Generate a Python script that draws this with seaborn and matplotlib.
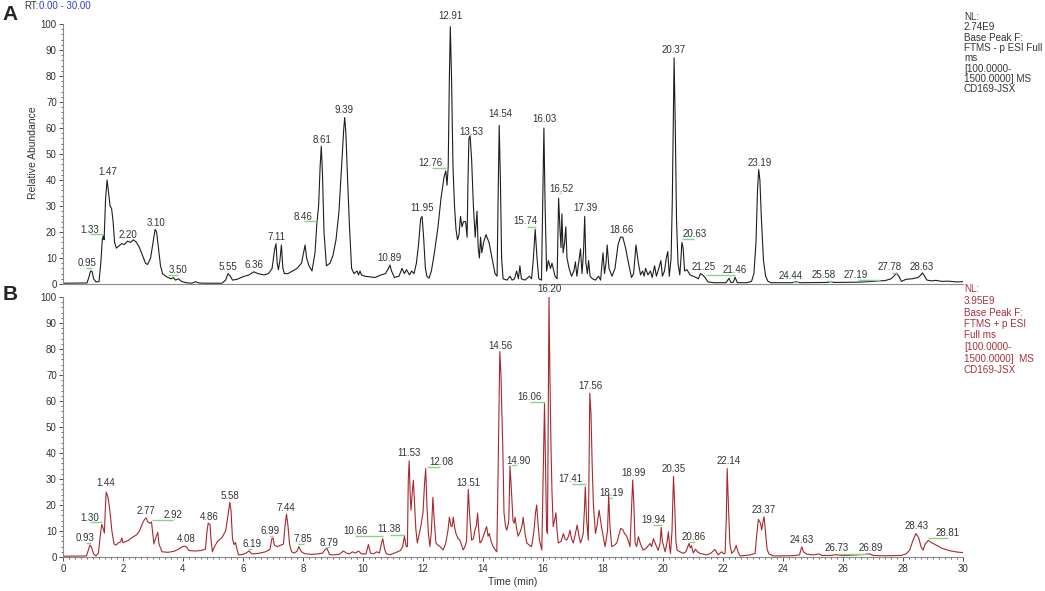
import matplotlib
matplotlib.use("Agg")
import matplotlib.pyplot as plt
from matplotlib.ticker import MultipleLocator
import pandas as pd
import seaborn as sns

# Base peak chromatogram A (negative mode) : (time min, relative abundance)
trace_a = [
    (0.0, 0.3), (0.8, 0.4), (0.86, 2.5), (0.92, 5), (0.97, 4.8), (1.02, 2), (1.1, 0.8), (1.2, 0.9),
    (1.26, 8), (1.31, 17), (1.34, 18.5), (1.37, 17), (1.42, 33), (1.47, 40), (1.52, 35), (1.57, 30),
    (1.62, 29), (1.67, 24), (1.72, 16), (1.78, 13.8), (1.85, 14.5), (1.95, 15.5), (2.05, 15.2),
    (2.15, 16.5), (2.25, 16), (2.35, 17), (2.45, 16), (2.55, 14), (2.65, 11), (2.75, 8), (2.82, 7.5),
    (2.92, 10), (3.0, 16), (3.07, 21), (3.12, 20), (3.18, 14), (3.25, 7), (3.32, 4), (3.42, 3),
    (3.5, 2.5), (3.6, 2), (3.68, 2.5), (3.75, 1.5), (3.85, 2), (3.95, 1), (4.1, 0.5), (4.3, 0.3),
    (4.42, 0.9), (4.52, 0.4), (4.7, 0.3), (5.3, 0.3), (5.42, 1.5), (5.5, 4), (5.58, 3), (5.65, 1.5),
    (5.8, 1.8), (6.0, 2.8), (6.2, 3.5), (6.36, 4.7), (6.5, 4), (6.7, 3.5), (6.85, 4), (6.97, 6),
    (7.05, 13), (7.1, 15.5), (7.14, 8), (7.18, 5.5), (7.23, 9), (7.28, 15), (7.33, 6), (7.38, 4),
    (7.5, 4), (7.65, 5), (7.8, 6), (7.95, 8), (8.02, 12), (8.07, 15), (8.12, 10), (8.2, 7), (8.3, 5),
    (8.4, 12), (8.46, 23), (8.52, 30), (8.57, 45), (8.61, 53), (8.65, 42), (8.7, 20), (8.78, 7),
    (8.9, 8), (9.0, 11), (9.1, 17), (9.2, 28), (9.3, 48), (9.36, 60), (9.39, 64), (9.43, 58),
    (9.48, 42), (9.55, 22), (9.62, 6), (9.7, 4), (9.8, 5), (9.85, 3.5), (9.9, 5), (9.95, 3.5),
    (10.05, 3), (10.2, 2.8), (10.4, 2.5), (10.6, 3.5), (10.75, 4), (10.85, 6), (10.9, 7.3),
    (10.95, 5), (11.05, 2.5), (11.2, 3), (11.3, 6), (11.38, 4), (11.45, 5.5), (11.55, 3.5),
    (11.62, 5), (11.7, 4), (11.78, 8), (11.85, 15), (11.92, 25), (11.97, 26), (12.02, 18),
    (12.08, 6), (12.13, 3), (12.2, 2.2), (12.28, 5), (12.38, 12), (12.5, 22), (12.6, 33),
    (12.7, 41), (12.76, 43.5), (12.8, 38), (12.84, 45), (12.88, 80), (12.91, 99), (12.95, 80),
    (13.0, 45), (13.05, 30), (13.1, 21), (13.15, 17), (13.2, 19), (13.25, 26), (13.3, 22),
    (13.35, 24), (13.42, 24), (13.47, 18), (13.5, 40), (13.53, 56), (13.57, 57), (13.62, 48),
    (13.68, 30), (13.74, 18), (13.8, 28), (13.84, 14), (13.88, 10), (13.92, 18), (13.96, 12),
    (14.02, 16), (14.1, 19), (14.2, 16), (14.3, 10), (14.4, 4), (14.47, 3), (14.5, 30),
    (14.54, 61), (14.58, 40), (14.62, 10), (14.67, 2), (14.8, 1.5), (14.9, 3), (14.97, 1.5),
    (15.05, 2), (15.12, 5), (15.18, 2), (15.23, 7), (15.28, 2), (15.4, 1.5), (15.55, 3),
    (15.62, 2), (15.68, 10), (15.74, 21), (15.8, 10), (15.86, 2), (15.95, 1.5), (15.99, 30),
    (16.03, 60), (16.07, 30), (16.12, 5), (16.18, 9), (16.25, 6), (16.3, 8), (16.4, 3),
    (16.47, 2), (16.52, 33), (16.57, 20), (16.6, 14), (16.63, 27), (16.67, 12), (16.72, 16),
    (16.76, 22), (16.8, 10), (16.87, 6), (16.95, 3), (17.03, 5), (17.08, 8.5), (17.13, 3),
    (17.2, 9), (17.25, 13.5), (17.3, 4), (17.35, 12), (17.39, 26), (17.43, 8), (17.48, 4),
    (17.52, 9), (17.57, 3), (17.65, 2), (17.75, 1.5), (17.85, 3), (17.92, 1.5), (18.0, 12),
    (18.05, 4), (18.1, 8), (18.14, 15), (18.2, 6), (18.3, 3), (18.4, 6), (18.5, 15), (18.58, 18),
    (18.66, 18), (18.75, 14), (18.85, 8), (18.95, 2.5), (19.02, 4), (19.1, 15), (19.18, 8),
    (19.25, 3.5), (19.32, 5), (19.37, 3), (19.42, 6), (19.5, 3.5), (19.58, 5), (19.64, 2.5),
    (19.72, 7), (19.78, 3), (19.86, 6), (19.93, 9), (19.98, 3), (20.05, 5), (20.11, 10),
    (20.16, 12.5), (20.21, 3), (20.27, 10), (20.31, 32), (20.34, 60), (20.37, 87), (20.41, 60),
    (20.45, 25), (20.5, 8), (20.56, 3.5), (20.6, 10), (20.63, 16), (20.67, 14), (20.72, 5),
    (20.8, 5.5), (20.9, 3.5), (21.0, 3), (21.1, 2.5), (21.18, 2), (21.25, 4), (21.32, 3.5),
    (21.4, 2.5), (21.5, 0.8), (21.7, 0.5), (22.1, 0.5), (22.2, 2.2), (22.27, 0.5), (22.35, 0.8),
    (22.4, 2.6), (22.48, 0.5), (22.8, 0.5), (22.95, 1), (23.03, 4), (23.1, 16), (23.15, 36),
    (23.19, 44), (23.23, 40), (23.28, 25), (23.35, 9), (23.42, 3), (23.5, 1), (23.6, 0.5),
    (24.3, 0.5), (24.44, 0.9), (24.55, 0.5), (25.5, 0.6), (25.58, 0.9), (25.7, 0.6), (26.5, 0.7),
    (27.0, 1), (27.19, 1.2), (27.4, 1.3), (27.6, 2), (27.7, 3), (27.78, 4.2), (27.86, 3),
    (27.95, 1), (28.1, 1.8), (28.3, 2), (28.5, 2.5), (28.6, 3.5), (28.65, 4.3), (28.72, 3),
    (28.8, 1.5), (28.95, 1.2), (29.1, 1.4), (29.3, 1), (29.5, 1.1), (29.8, 0.8), (30.0, 0.9),
]

# Base peak chromatogram B (positive mode)
trace_b = [
    (0.0, 0.3), (0.78, 0.4), (0.84, 2.5), (0.9, 4.6), (0.96, 3.5), (1.02, 1.2), (1.1, 0.4),
    (1.18, 1.5), (1.24, 8), (1.29, 12.5), (1.34, 11), (1.38, 9.2), (1.41, 18), (1.44, 25),
    (1.5, 23), (1.56, 18), (1.63, 10), (1.7, 5), (1.77, 4.6), (1.85, 5.5), (1.92, 5.8),
    (1.96, 7.3), (2.0, 5.5), (2.1, 6), (2.2, 6.5), (2.3, 7.5), (2.45, 8.5), (2.55, 10), (2.65, 13),
    (2.72, 14.5), (2.77, 15), (2.83, 13.5), (2.9, 13), (2.95, 13.5), (3.0, 8), (3.03, 5),
    (3.08, 7), (3.16, 9.5), (3.2, 5), (3.25, 3.5), (3.3, 2), (3.5, 1.8), (3.7, 2.2), (3.85, 3),
    (3.95, 3.8), (4.05, 4.2), (4.12, 3.8), (4.2, 2.5), (4.4, 2.3), (4.6, 2.5), (4.75, 3),
    (4.8, 10), (4.84, 13), (4.9, 12.5), (4.94, 6), (4.98, 2), (5.05, 4), (5.15, 6), (5.3, 7.5),
    (5.42, 10), (5.5, 16), (5.56, 21), (5.6, 18), (5.65, 7), (5.7, 4.8), (5.75, 5.6), (5.8, 3),
    (5.85, 0.8), (6.0, 1), (6.1, 1.5), (6.2, 2.3), (6.3, 1.2), (6.45, 1.3), (6.6, 1.6),
    (6.75, 2), (6.9, 3), (6.96, 7), (7.0, 7.3), (7.05, 4.5), (7.15, 4), (7.25, 4.5), (7.35, 5),
    (7.4, 12), (7.45, 16.5), (7.5, 12), (7.55, 5), (7.62, 2), (7.7, 1.5), (7.8, 2.2), (7.86, 4),
    (7.95, 2), (8.05, 1.3), (8.3, 1), (8.5, 1.2), (8.65, 1.5), (8.75, 3), (8.8, 3.4), (8.88, 1),
    (9.0, 0.8), (9.2, 1), (9.35, 2.3), (9.45, 1.5), (9.55, 1.2), (9.65, 2), (9.75, 1.5),
    (9.85, 2.3), (9.95, 1.2), (10.1, 1.2), (10.18, 4.8), (10.25, 1.5), (10.35, 1.2), (10.46, 2),
    (10.55, 1.5), (10.62, 5.5), (10.66, 7), (10.72, 3), (10.78, 1.2), (10.9, 0.9), (11.05, 1.5),
    (11.15, 2), (11.25, 2.5), (11.32, 4), (11.38, 8), (11.44, 4), (11.48, 4), (11.51, 30),
    (11.54, 37), (11.57, 25), (11.6, 18), (11.65, 26), (11.68, 29.5), (11.72, 20), (11.76, 11),
    (11.81, 5.4), (11.86, 8), (11.93, 12), (12.0, 17), (12.05, 28), (12.09, 34), (12.13, 20),
    (12.18, 9), (12.23, 4), (12.28, 10), (12.33, 23), (12.37, 15), (12.43, 5.4), (12.5, 4.5),
    (12.57, 4), (12.67, 2.7), (12.75, 5), (12.83, 10), (12.88, 15.3), (12.93, 12), (12.97, 11.7),
    (13.01, 15.3), (13.06, 11), (13.1, 9), (13.17, 7), (13.23, 6.5), (13.3, 4), (13.34, 2.7),
    (13.4, 4), (13.45, 6), (13.51, 26), (13.56, 15), (13.62, 6.5), (13.68, 7), (13.73, 10.3),
    (13.78, 12), (13.82, 16.9), (13.86, 10), (13.9, 5.4), (13.95, 6), (14.01, 8), (14.07, 10),
    (14.12, 11.7), (14.17, 8), (14.21, 9), (14.27, 6), (14.34, 4), (14.42, 2.5), (14.46, 2),
    (14.5, 30), (14.53, 55), (14.56, 79), (14.6, 70), (14.63, 55), (14.66, 42), (14.7, 17),
    (14.75, 12), (14.79, 10.3), (14.83, 12), (14.86, 14), (14.9, 35), (14.95, 25), (15.0, 14),
    (15.04, 13), (15.07, 15.3), (15.12, 11), (15.17, 8), (15.25, 10), (15.3, 12), (15.34, 15.3),
    (15.4, 9), (15.46, 5.4), (15.55, 4.5), (15.62, 4), (15.7, 10), (15.75, 17), (15.79, 20),
    (15.84, 12), (15.88, 6.5), (15.96, 2.7), (16.01, 35), (16.05, 59), (16.09, 30), (16.12, 10.3),
    (16.15, 9), (16.18, 60), (16.2, 100), (16.23, 70), (16.27, 40), (16.3, 25), (16.34, 11.7),
    (16.4, 15), (16.43, 17), (16.47, 10), (16.51, 5.4), (16.6, 6), (16.68, 9), (16.73, 7),
    (16.79, 6.5), (16.85, 8), (16.9, 10.3), (16.95, 7), (17.01, 5.4), (17.08, 9), (17.14, 12.3),
    (17.2, 8), (17.25, 5.4), (17.3, 7), (17.34, 9), (17.38, 18), (17.41, 27), (17.45, 15),
    (17.51, 6.5), (17.53, 30), (17.56, 63), (17.6, 55), (17.64, 35), (17.68, 20), (17.75, 9),
    (17.8, 12), (17.87, 18), (17.92, 14), (17.95, 11.7), (18.02, 7), (18.07, 4), (18.15, 10),
    (18.19, 24), (18.23, 12), (18.29, 4), (18.38, 4.5), (18.46, 5.4), (18.52, 8), (18.59, 11),
    (18.66, 10.5), (18.72, 9), (18.79, 8), (18.85, 6), (18.9, 4), (18.94, 15), (18.99, 29.6),
    (19.03, 20), (19.07, 5.4), (19.12, 4), (19.18, 7.8), (19.25, 5), (19.34, 2.6), (19.45, 3.5),
    (19.52, 4.5), (19.57, 5.2), (19.62, 4), (19.68, 7), (19.75, 5), (19.84, 2.6), (19.9, 5),
    (19.94, 11.4), (19.98, 6), (20.07, 2), (20.14, 6), (20.18, 9.7), (20.22, 4), (20.25, 1.4),
    (20.3, 10), (20.35, 31), (20.39, 20), (20.43, 6), (20.47, 2.6), (20.6, 1.8), (20.68, 1.4),
    (20.76, 2), (20.83, 4), (20.87, 5.2), (20.91, 3.5), (20.95, 4.3), (21.01, 1.5), (21.08, 3),
    (21.15, 2), (21.23, 1.4), (21.46, 0.8), (21.6, 1.5), (21.73, 2.9), (21.8, 1.5), (21.84, 0.8),
    (21.9, 1.5), (21.96, 2), (22.02, 1.2), (22.07, 1.4), (22.11, 15), (22.14, 34), (22.18, 20),
    (22.23, 5), (22.29, 1.4), (22.38, 2.5), (22.44, 4.5), (22.5, 2), (22.57, 0.4), (22.75, 0.6),
    (22.9, 0.8), (23.07, 1.4), (23.12, 8), (23.18, 14.5), (23.25, 13), (23.29, 10.4),
    (23.34, 14), (23.37, 15.5), (23.42, 9), (23.47, 3), (23.53, 1.2), (23.68, 0.4), (24.34, 0.5),
    (24.55, 0.8), (24.6, 3), (24.63, 3.9), (24.68, 2), (24.79, 1.1), (25.0, 0.8), (25.2, 1.2),
    (25.3, 0.6), (25.6, 0.6), (25.75, 0.9), (26.0, 0.5), (26.3, 0.7), (26.73, 1), (26.89, 1.2),
    (27.0, 0.6), (27.2, 0.5), (27.5, 0.5), (27.94, 0.6), (28.1, 1.2), (28.22, 2.6), (28.32, 6),
    (28.43, 9), (28.52, 7.5), (28.6, 4), (28.67, 2.6), (28.74, 5), (28.84, 6.4), (28.95, 5.5),
    (29.12, 4.5), (29.3, 3.3), (29.57, 2.4), (29.8, 1.9), (30.0, 1.7),
]

# peak labels as displayed (text, label centre time, label centre height)
labels_a = ["0.95", "1.33", "1.47", "2.20", "3.10", "3.50", "5.55", "6.36", "7.11", "8.46",
            "8.61", "9.39", "10.89", "11.95", "12.76", "12.91", "13.53", "14.54", "15.74",
            "16.03", "16.52", "17.39", "18.66", "20.37", "20.63", "21.25", "21.46", "23.19",
            "24.44", "25.58", "27.19", "27.78", "28.63"]
label_t_a = [0.79, 0.9, 1.48, 2.18, 3.09, 3.82, 5.49, 6.38, 7.1, 8.01, 8.62, 9.38, 10.88,
             11.97, 12.26, 12.9, 13.62, 14.57, 15.41, 16.06, 16.62, 17.4, 18.63, 20.37, 21.04,
             21.36, 22.4, 23.21, 24.27, 25.34, 26.41, 27.54, 28.63]
label_v_a = [8, 20.8, 43.2, 18.8, 23.6, 5.4, 6.7, 7.3, 18.2, 25.9, 55.4, 66.9, 9.9, 29.1,
             46.4, 103.1, 58.6, 65.3, 24.2, 63.3, 36.4, 29.3, 20.8, 90, 19.1, 6.7, 5.4, 46.7,
             3.1, 3.5, 3.5, 6.4, 6.4]
# green leader lines (from, to, height)
leaders_a = [(0.77, 0.96, 6.3), (0.9, 1.32, 19.1), (3.5, 3.83, 3.5), (8.03, 8.46, 24.3),
             (12.29, 12.77, 44.5), (15.46, 15.76, 22), (16.53, 16.6, 34.9), (20.62, 21.03, 17.2),
             (21.43, 22.4, 3.5), (24.32, 24.51, 0.9), (25.42, 25.64, 1.3), (26.51, 27.23, 1.5),
             (27.62, 27.81, 4.3)]

labels_b = ["0.93", "1.30", "1.44", "2.77", "2.92", "4.08", "4.86", "5.58", "6.19", "6.99",
            "7.44", "7.85", "8.79", "10.66", "11.38", "11.53", "12.08", "13.51", "14.56",
            "14.90", "16.06", "16.20", "17.41", "17.56", "18.19", "18.99", "19.94", "20.35",
            "20.86", "22.14", "23.37", "24.63", "26.73", "26.89", "28.43", "28.81"]
label_t_b = [0.74, 0.89, 1.43, 2.76, 3.68, 4.1, 4.87, 5.58, 6.29, 6.9, 7.44, 8.01, 8.88,
             9.74, 10.88, 11.54, 12.6, 13.51, 14.57, 15.17, 15.56, 16.23, 16.92, 17.59, 18.29,
             19.01, 19.7, 20.37, 21.03, 22.18, 23.37, 24.63, 25.8, 26.91, 28.47, 29.49]
label_v_b = [7.2, 15.1, 28.3, 17.8, 16.2, 6.8, 15.5, 23.6, 4.9, 10.1, 18.7, 6.8, 5.5, 10.1,
             10.6, 39.9, 36.4, 28.3, 81.3, 37, 61.7, 103, 29.9, 65.8, 24.5, 32.4, 14.2, 33.8,
             7.8, 37, 18.1, 6.5, 3.3, 3.3, 11.9, 9.1]
leaders_b = [(0.77, 0.92, 5.3), (0.9, 1.29, 13.3), (2.96, 3.68, 14.2), (6.18, 6.29, 3),
             (6.9, 7.0, 8.1), (7.84, 8.03, 4.9), (8.79, 8.9, 3.7), (9.73, 10.68, 8.1),
             (10.9, 11.4, 8.5), (12.12, 12.58, 34.5), (14.93, 15.12, 35.3), (15.57, 16.07, 59.7),
             (16.96, 17.43, 28.1), (18.2, 18.29, 22.6), (19.68, 19.96, 12.3), (20.88, 21.07, 5.8),
             (25.84, 26.79, 1.2), (28.84, 29.51, 7.2)]

info_a = ["NL:", "2.74E9", "Base Peak F:", "FTMS - p ESI Full", "ms", "[100.0000-",
          "1500.0000] MS", "CD169-JSX"]
info_b = ["NL:", "3.95E9", "Base Peak F:", "FTMS + p ESI", "Full ms", "[100.0000-",
          "1500.0000]  MS", "CD169-JSX"]

sns.set_style("white")
plt.rcParams['font.family'] = ['Liberation Sans', 'DejaVu Sans']

W, H = 1045, 591
fig = plt.figure(figsize=(W / 100, H / 100), dpi=100)
ax_a = fig.add_axes([63 / W, 1 - 284 / H, 900 / W, 260 / H])
ax_b = fig.add_axes([63 / W, 1 - 557 / H, 900 / W, 260 / H])

text_col = "#333333"
axis_col = "#8a8a8a"


def draw_panel(ax, trace, color, texts, xs, ys, leaders):
    df = pd.DataFrame(trace, columns=["time", "abundance"])
    sns.lineplot(data=df, x="time", y="abundance", ax=ax, color=color,
                 linewidth=0.8, estimator=None, sort=False)
    for x0, x1, y in leaders:
        ax.hlines(y, x0, x1, color="#86d486", linewidth=1.0)
    for txt, x, y in zip(texts, xs, ys):
        ax.text(x, y, txt, ha="center", va="center", fontsize=7, color=text_col)
    ax.set_xlim(0, 30)
    ax.set_ylim(0, 100)
    ax.set_xlabel("")
    ax.set_ylabel("")
    sns.despine(ax=ax)
    for side in ["left", "bottom"]:
        ax.spines[side].set_color(axis_col)
        ax.spines[side].set_linewidth(0.8)
    ax.yaxis.set_major_locator(MultipleLocator(10))
    ax.yaxis.set_minor_locator(MultipleLocator(2))
    ax.tick_params(axis="y", which="major", length=3, width=0.7, color="#555555",
                   labelsize=7, labelcolor=text_col, pad=1.5, left=True)
    ax.tick_params(axis="y", which="minor", length=1.6, width=0.6, color="#555555", left=True)


draw_panel(ax_a, trace_a, "#1e1e1e", labels_a, label_t_a, label_v_a, leaders_a)
draw_panel(ax_b, trace_b, "#a8282e", labels_b, label_t_b, label_v_b, leaders_b)

ax_a.set_xticks([])
ax_a.tick_params(axis="x", which="both", length=0)

ax_b.xaxis.set_major_locator(MultipleLocator(2))
ax_b.xaxis.set_minor_locator(MultipleLocator(0.2))
ax_b.tick_params(axis="x", which="major", length=3, width=0.7, color="#555555",
                 labelsize=7, labelcolor=text_col, pad=2, bottom=True)
ax_b.tick_params(axis="x", which="minor", length=1.6, width=0.6, color="#555555", bottom=True)

fig.text(33 / W, 1 - 153 / H, "Relative Abundance", rotation=90, ha="center", va="center",
         fontsize=7.5, color=text_col)
fig.text(513 / W, 1 - 582 / H, "Time (min)", ha="center", va="center", fontsize=7.5,
         color=text_col)

fig.text(10 / W, 1 - 14 / H, "A", ha="center", va="center", fontsize=15, fontweight="bold")
fig.text(10 / W, 1 - 295 / H, "B", ha="center", va="center", fontsize=15, fontweight="bold")

fig.text(24 / W, 1 - 6 / H, "RT:", ha="left", va="center", fontsize=7, color=text_col)
fig.text(39 / W, 1 - 6 / H, "0.00 - 30.00", ha="left", va="center", fontsize=7, color="#3040d0")

# instrument info blocks, one line at a time
for i, line in enumerate(info_a):
    fig.text(964 / W, 1 - (17 + 10.3 * i) / H, line, ha="left", va="center", fontsize=7.1,
             color=text_col)
for i, line in enumerate(info_b):
    fig.text(964 / W, 1 - (289.5 + 11.5 * i) / H, line, ha="left", va="center", fontsize=7.1,
             color="#a8303a")

fig.savefig("out.png", dpi=100)
